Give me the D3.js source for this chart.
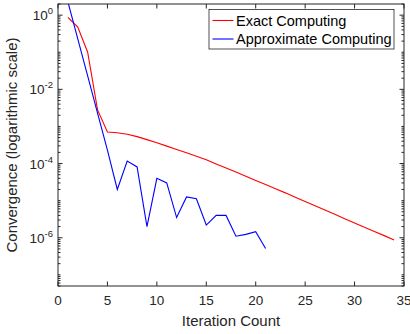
<!DOCTYPE html>
<html>
<head>
<meta charset="utf-8">
<script src="https://cdn.jsdelivr.net/npm/d3@7"></script>
<style>
  body { margin: 0; background: #fff; }
  svg { font-family: "Liberation Sans", Arial, sans-serif; }
</style>
</head>
<body>
<div id="chart"></div>
<script>
// iteration numbers and convergence values
const exactIter = [1, 2, 3, 4, 5, 6, 7, 8, 9, 10, 11, 12, 13, 14, 15, 16, 17, 18, 19, 20,
  21, 22, 23, 24, 25, 26, 27, 28, 29, 30, 31, 32, 33, 34];
const exactConv = [0.87, 0.48, 0.10, 2.8e-3, 7.1e-4, 6.76e-4, 6.17e-4, 5.31e-4, 4.42e-4, 3.63e-4,
  2.95e-4, 2.40e-4, 1.95e-4, 1.58e-4, 1.26e-4, 9.77e-5, 7.59e-5, 5.89e-5, 4.57e-5, 3.51e-5,
  2.72e-5, 2.09e-5, 1.62e-5, 1.23e-5, 9.44e-6, 7.24e-6, 5.56e-6, 4.27e-6, 3.27e-6, 2.51e-6,
  1.93e-6, 1.48e-6, 1.14e-6, 8.7e-7];

const approxIter = [1, 2, 3, 4, 5, 6, 7, 8, 9, 10, 11, 12, 13, 14, 15, 16, 17, 18, 19, 20, 21];
const approxConv = [2.3, 0.23, 0.023, 2.3e-3, 2.3e-4, 2.0e-5, 1.17e-4, 8.1e-5, 2.0e-6, 4.0e-5,
  3.0e-5, 3.5e-6, 1.26e-5, 1.12e-5, 2.2e-6, 4.0e-6, 4.0e-6, 1.1e-6, 1.23e-6, 1.45e-6, 5.1e-7];

const xTicks = [0, 5, 10, 15, 20, 25, 30, 35];
const yTickExp = [0, -2, -4, -6];
const seriesNames = ["Exact Computing", "Approximate Computing"];
const seriesColors = ["#ff0000", "#0000ff"];

const width = 410, height = 334;
const margin = { top: 4, right: 6, bottom: 48, left: 58 };
const axisColor = "#262626";

const svg = d3.select("#chart").append("svg")
  .attr("width", width)
  .attr("height", height);

const x = d3.scaleLinear().domain([0, 35]).range([margin.left, width - margin.right]);
const y = d3.scaleLog().domain([5e-8, 2]).range([height - margin.bottom, margin.top]);

const [x0, x1] = x.range();
const [y0, y1] = y.range(); // y0 bottom, y1 top

svg.append("defs").append("clipPath").attr("id", "clip")
  .append("rect")
  .attr("x", x0).attr("y", y1)
  .attr("width", x1 - x0).attr("height", y0 - y1);

// lines
const line = d3.line().x(d => x(d[0])).y(d => y(d[1]));
const series = [
  d3.zip(exactIter, exactConv),
  d3.zip(approxIter, approxConv)
];

svg.append("g").attr("clip-path", "url(#clip)")
  .selectAll("path")
  .data(series)
  .join("path")
  .attr("d", line)
  .attr("fill", "none")
  .attr("stroke", (d, i) => seriesColors[i])
  .attr("stroke-width", 1.1);

// box
svg.append("rect")
  .attr("x", x0).attr("y", y1)
  .attr("width", x1 - x0).attr("height", y0 - y1)
  .attr("fill", "none")
  .attr("stroke", axisColor)
  .attr("stroke-width", 1);

// x ticks (bottom and top, pointing inward)
const tickG = svg.append("g").attr("stroke", axisColor).attr("stroke-width", 1);
xTicks.forEach(t => {
  tickG.append("line").attr("x1", x(t)).attr("x2", x(t)).attr("y1", y0).attr("y2", y0 - 4.5);
  tickG.append("line").attr("x1", x(t)).attr("x2", x(t)).attr("y1", y1).attr("y2", y1 + 4.5);
});

svg.append("g").selectAll("text")
  .data(xTicks)
  .join("text")
  .attr("x", d => x(d))
  .attr("y", y0 + 19)
  .attr("text-anchor", "middle")
  .attr("font-size", 13.5)
  .attr("fill", axisColor)
  .text(d => d);

// y ticks: majors at labelled decades, minors at k*10^n
const minorTicks = [];
for (let e = -8; e <= 0; e++) {
  for (let k = 1; k <= 9; k++) {
    const v = k * Math.pow(10, e);
    if (v >= 5e-8 && v <= 2) minorTicks.push(v);
  }
}
minorTicks.forEach(v => {
  const major = yTickExp.some(e => Math.abs(Math.log10(v) - e) < 1e-9);
  const len = major ? 4.5 : 2.5;
  tickG.append("line").attr("x1", x0).attr("x2", x0 + len).attr("y1", y(v)).attr("y2", y(v));
  tickG.append("line").attr("x1", x1).attr("x2", x1 - len).attr("y1", y(v)).attr("y2", y(v));
});

const yLabels = svg.append("g").selectAll("text")
  .data(yTickExp)
  .join("text")
  .attr("x", x0 - 5)
  .attr("y", d => y(Math.pow(10, d)) + 5)
  .attr("text-anchor", "end")
  .attr("fill", axisColor);
yLabels.append("tspan").attr("font-size", 13.5).text("10");
yLabels.append("tspan").attr("font-size", 9.5).attr("dy", -6).text(d => d);

// axis titles
svg.append("text")
  .attr("x", (x0 + x1) / 2)
  .attr("y", height - 8)
  .attr("text-anchor", "middle")
  .attr("font-size", 15)
  .attr("fill", axisColor)
  .text("Iteration Count");

svg.append("text")
  .attr("transform", `translate(17,${(y0 + y1) / 2}) rotate(-90)`)
  .attr("text-anchor", "middle")
  .attr("font-size", 15)
  .attr("fill", axisColor)
  .text("Convergence (logarithmic scale)");

// legend
const legend = svg.append("g").attr("transform", "translate(209,9.5)");
legend.append("rect")
  .attr("width", 185).attr("height", 39.5)
  .attr("fill", "#fff")
  .attr("stroke", axisColor)
  .attr("stroke-width", 0.8);
seriesNames.forEach((name, i) => {
  const ly = 11 + i * 18.5;
  legend.append("line")
    .attr("x1", 3.5).attr("x2", 24.5).attr("y1", ly).attr("y2", ly)
    .attr("stroke", seriesColors[i]).attr("stroke-width", 1.1);
  legend.append("text")
    .attr("x", 27).attr("y", ly + 5)
    .attr("font-size", 14.5)
    .attr("fill", "#000")
    .text(name);
});
</script>
</body>
</html>
